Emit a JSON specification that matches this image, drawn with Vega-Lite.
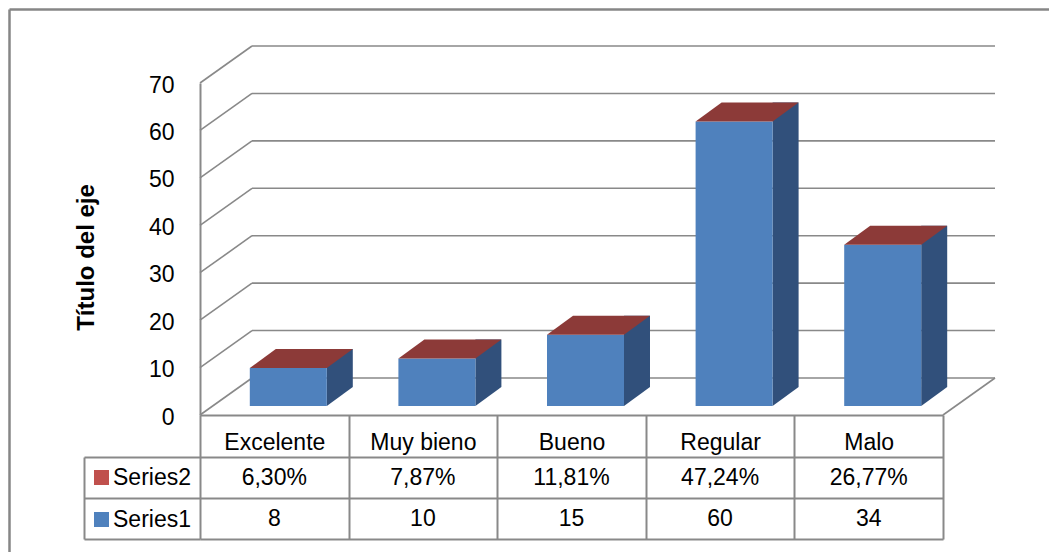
{
  "$schema": "https://vega.github.io/schema/vega-lite/v6.json",
  "width": 743,
  "height": 332,
  "autosize": {"type": "none"},
  "padding": {"left": 200, "top": 83, "right": 106, "bottom": 137},
  "background": "white",
  "datasets": {
    "respuestas": [
      {"categoria": "Excelente", "Series1": 8, "Series2": 0.063},
      {"categoria": "Muy bieno", "Series1": 10, "Series2": 0.0787},
      {"categoria": "Bueno", "Series1": 15, "Series2": 0.1181},
      {"categoria": "Regular", "Series1": 60, "Series2": 0.4724},
      {"categoria": "Malo", "Series1": 34, "Series2": 0.2677}
    ],
    "rejilla": [{"v": 0}, {"v": 10}, {"v": 20}, {"v": 30}, {"v": 40}, {"v": 50}, {"v": 60}, {"v": 70}],
    "series": [{"serie": "Series2"}, {"serie": "Series1"}],
    "marco": [{"m": 0}]
  },
  "layer": [
    {
      "data": {"name": "rejilla"},
      "mark": {"type": "rule", "color": "#898989", "strokeWidth": 1.6, "xOffset": 52, "x2Offset": 52, "yOffset": -37},
      "encoding": {
        "x": {"value": 0},
        "x2": {"value": "width"},
        "y": {
          "field": "v", "type": "quantitative",
          "scale": {"domain": [0, 70], "nice": false},
          "axis": {
            "title": "Título del eje", "values": [0, 10, 20, 30, 40, 50, 60, 70],
            "grid": false, "ticks": false, "domain": true, "domainColor": "#898989", "domainWidth": 2,
            "labelFontSize": 23, "labelPadding": 26, "labelColor": "#000", "labelOffset": 2,
            "titleFontSize": 24, "titleFontWeight": "bold", "titleColor": "#000", "titlePadding": 50, "titleY": 174
          }
        }
      }
    },
    {
      "data": {"name": "rejilla"},
      "mark": {"type": "rule", "color": "#898989", "strokeWidth": 1.6, "y2Offset": -37},
      "encoding": {
        "x": {"value": 0},
        "x2": {"value": 52},
        "y": {"field": "v", "type": "quantitative", "scale": {"domain": [0, 70], "nice": false}, "axis": null},
        "y2": {"field": "v"}
      }
    },
    {
      "data": {"name": "rejilla"},
      "transform": [{"filter": "datum.v === 0"}],
      "mark": {"type": "rule", "color": "#898989", "strokeWidth": 1.6, "x2Offset": 52, "y2Offset": -37},
      "encoding": {
        "x": {"value": "width"},
        "x2": {"value": "width"},
        "y": {"field": "v", "type": "quantitative", "scale": {"domain": [0, 70], "nice": false}, "axis": null},
        "y2": {"field": "v"}
      }
    },
    {
      "data": {"name": "respuestas"},
      "mark": {"type": "bar", "width": 26, "xOffset": 65.5, "yOffset": -28, "y2Offset": -28, "color": "#31507B"},
      "encoding": {
        "x": {
          "field": "categoria", "type": "nominal", "sort": null,
          "scale": {"type": "band", "paddingInner": 0, "paddingOuter": 0},
          "axis": {
            "title": null, "grid": false, "domain": true, "domainColor": "#898989", "domainWidth": 2,
            "ticks": true, "tickBand": "extent", "tickSize": 124, "tickColor": "#898989", "tickWidth": 2,
            "labelFontSize": 23, "labelColor": "#000", "labelAngle": 0, "labelBaseline": "middle", "labelPadding": -97
          }
        },
        "y": {"field": "Series1", "type": "quantitative", "scale": {"domain": [0, 70], "nice": false}, "axis": null}
      }
    },
    {
      "data": {"name": "respuestas"},
      "mark": {"type": "point", "shape": "M52.5,-9L78.5,-28L52.5,-28Z", "size": 4, "filled": true, "color": "#31507B", "opacity": 1, "strokeWidth": 0},
      "encoding": {
        "x": {"field": "categoria", "type": "nominal", "sort": null, "scale": {"type": "band", "paddingInner": 0, "paddingOuter": 0}, "axis": null},
        "y": {"datum": 0, "type": "quantitative", "scale": {"domain": [0, 70], "nice": false}, "axis": null}
      }
    },
    {
      "data": {"name": "respuestas"},
      "mark": {"type": "bar", "width": 77, "xOffset": 14, "yOffset": -9, "y2Offset": -9, "color": "#4F81BD"},
      "encoding": {
        "x": {"field": "categoria", "type": "nominal", "sort": null, "scale": {"type": "band", "paddingInner": 0, "paddingOuter": 0}, "axis": null},
        "y": {"field": "Series1", "type": "quantitative", "scale": {"domain": [0, 70], "nice": false}, "axis": null}
      }
    },
    {
      "data": {"name": "respuestas"},
      "mark": {"type": "point", "shape": "M-24.5,-9L52.5,-9L78.5,-28L1.5,-28Z", "size": 4, "filled": true, "color": "#8C3A38", "opacity": 1, "strokeWidth": 0},
      "encoding": {
        "x": {"field": "categoria", "type": "nominal", "sort": null, "scale": {"type": "band", "paddingInner": 0, "paddingOuter": 0}, "axis": null},
        "y": {"field": "Series1", "type": "quantitative", "scale": {"domain": [0, 70], "nice": false}, "axis": null}
      }
    },
    {
      "data": {"name": "respuestas"},
      "mark": {"type": "text", "fontSize": 23, "color": "#000"},
      "encoding": {
        "x": {"field": "categoria", "type": "nominal", "sort": null, "scale": {"type": "band", "paddingInner": 0, "paddingOuter": 0}, "axis": null},
        "y": {
          "datum": "Series2", "type": "nominal",
          "scale": {"type": "band", "domain": ["Series2", "Series1"], "range": [374, 456], "paddingInner": 0, "paddingOuter": 0},
          "axis": {
            "orient": "left", "title": null, "offset": 116, "labels": false,
            "ticks": true, "tickBand": "extent", "tickSize": -116, "tickColor": "#898989", "tickWidth": 2,
            "domain": true, "domainColor": "#898989", "domainWidth": 2,
            "grid": true, "gridColor": "#898989", "gridWidth": 2
          }
        },
        "text": {"field": "Series2", "type": "quantitative", "format": ".2%"}
      }
    },
    {
      "data": {"name": "respuestas"},
      "mark": {"type": "text", "fontSize": 23, "color": "#000"},
      "encoding": {
        "x": {"field": "categoria", "type": "nominal", "sort": null, "scale": {"type": "band", "paddingInner": 0, "paddingOuter": 0}, "axis": null},
        "y": {"datum": "Series1", "type": "nominal", "scale": {"type": "band", "domain": ["Series2", "Series1"], "range": [374, 456], "paddingInner": 0, "paddingOuter": 0}, "axis": null},
        "text": {"field": "Series1", "type": "quantitative", "format": "d"}
      }
    },
    {
      "data": {"name": "series"},
      "mark": {"type": "point", "filled": true, "opacity": 0, "shape": "square"},
      "encoding": {
        "color": {
          "field": "serie", "type": "nominal",
          "scale": {"domain": ["Series2", "Series1"], "range": ["#C0504D", "#4F81BD"]},
          "legend": {
            "title": null, "orient": "none", "legendX": -110, "legendY": 383, "direction": "vertical",
            "symbolType": "square", "symbolSize": 225, "symbolStrokeWidth": 0, "symbolOpacity": 1,
            "labelFontSize": 23, "labelColor": "#000", "labelOffset": 0, "rowPadding": 18, "padding": 0
          }
        }
      }
    },
    {
      "data": {"name": "marco"},
      "mark": {"type": "point", "opacity": 0},
      "encoding": {
        "x": {
          "datum": 0, "type": "quantitative",
          "scale": {"domain": [0, 1], "range": [-191, 849], "zero": false, "nice": false},
          "axis": {"orient": "top", "offset": 74, "domain": true, "domainColor": "#868686", "domainWidth": 2.5, "ticks": false, "labels": false, "grid": false, "title": null}
        },
        "y": {
          "datum": 0, "type": "quantitative",
          "scale": {"domain": [0, 1], "range": [469, -74], "zero": false, "nice": false},
          "axis": {"orient": "left", "offset": 191, "domain": true, "domainColor": "#868686", "domainWidth": 2.5, "ticks": false, "labels": false, "grid": false, "title": null}
        }
      }
    }
  ],
  "resolve": {"scale": {"x": "independent", "y": "independent"}, "axis": {"x": "independent", "y": "independent"}},
  "config": {
    "font": "Liberation Sans",
    "view": {"stroke": null},
    "locale": {"number": {"decimal": ",", "thousands": ".", "grouping": [3], "currency": ["", " €"]}}
  }
}
